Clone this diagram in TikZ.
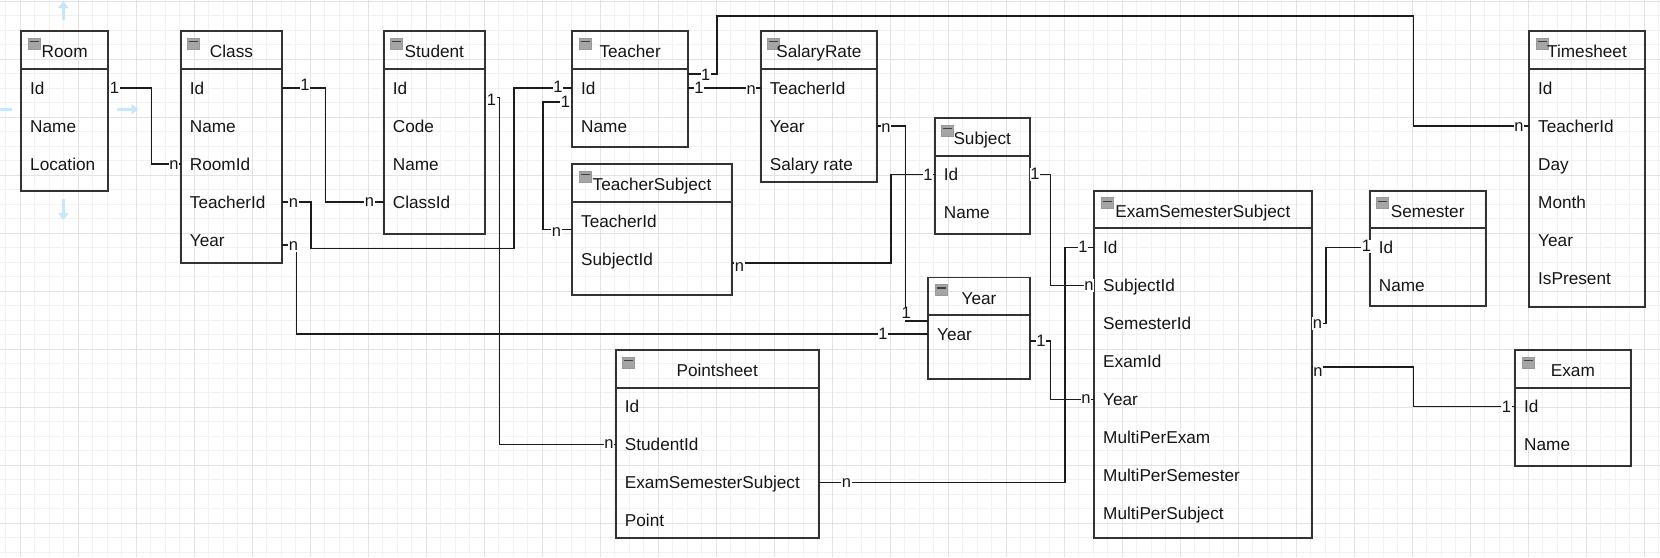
\documentclass[tikz,border=0pt]{standalone}
\usepackage{fontspec}
\setmainfont{Liberation Sans}
\usetikzlibrary{calc,arrows.meta}
\definecolor{boxc}{RGB}{51,51,51}
\definecolor{txt}{RGB}{22,22,22}
\definecolor{lnc}{RGB}{28,28,28}
\definecolor{hintc}{RGB}{202,229,248}
\definecolor{iconc}{RGB}{165,165,165}
\tikzset{
  ebox/.style={draw=boxc, line width=1.7pt, inner sep=0pt, outer sep=0pt},
  eline/.style={draw=boxc, line width=1.7pt},
  etitle/.style={anchor=base, inner sep=0pt, text=txt, font=\fontsize{17.2}{20}\selectfont},
  efield/.style={anchor=west, inner sep=0pt, text height=12.3pt, text depth=0pt, text=txt, font=\fontsize{17.2}{20}\selectfont},
  conn/.style={draw=lnc, line width=1.45pt},
  lab/.style={fill=white, inner sep=0.6pt, text height=11.8pt, text depth=0pt, text=txt, font=\fontsize{16.5}{18}\selectfont},
  gmin/.style={draw=black!5, line width=0.8pt},
  gmaj/.style={draw=black!11, line width=0.9pt},
  hint/.style={draw=hintc, line width=3.5pt, -{Triangle[width=10pt,length=7pt]}},
}
\newcommand\entity[8]{%
  \node[ebox, minimum width={#4-(#2)}, minimum height={#6-(#3)}] (#1) at ({(#2+#4)/2},{(#3+#6)/2}) {};
  \draw[eline] (#2,#5) -- (#4,#5);
  \fill[iconc] ({#2+7},{#3+7}) rectangle ({#2+19},{#3+18});
  \draw[black!40, line width=0.5pt] ({#2+7},{#3+7}) rectangle ({#2+19},{#3+18});
  \draw[black!75, line width=1.3pt] ({#2+8.5},{#3+10.5}) -- ({#2+17.5},{#3+10.5});
  \node[etitle] (#1-t) at ({(#2+#4)/2},{#3+26.5}) {#7};
  \foreach \f [count=\i from 0] in {#8} {\node[efield] (#1-\i) at ({#2+9},{#5+19+38*\i}) {\f};}
}
\begin{document}
\begin{tikzpicture}[x=1pt,y=-1pt]
\useasboundingbox (0,0) rectangle (1660,557);
\fill[white] (0,0) rectangle (1660,557);
% grid
\foreach \k in {0,...,114} {\draw[gmin] ({5.8+14.5*\k},0) -- ({5.8+14.5*\k},557);}
\foreach \k in {0,...,38} {\draw[gmin] (0,{1.3+14.5*\k}) -- (1660,{1.3+14.5*\k});}
\foreach \k in {0,...,28} {\draw[gmaj] ({20.3+58*\k},0) -- ({20.3+58*\k},557);}
\foreach \k in {0,...,9} {\draw[gmaj] (0,{1.3+58*\k}) -- (1660,{1.3+58*\k});}
% hover hints around Room
\draw[hint] (63.3,20) -- (63.3,1);
\draw[hint] (117,109.3) -- (138.5,109.3);
\draw[hint] (63.3,199) -- (63.3,220);
\draw[draw=hintc, line width=3.5pt] (0,109.3) -- (11.7,109.3);
% entities
\entity{room}{21}{31}{108.3}{69}{191}{Room}{Id,Name,Location}
\entity{class}{180.7}{31}{282.3}{69}{263}{Class}{Id,Name,RoomId,TeacherId,Year}
\entity{student}{383.7}{31}{485}{69}{233.7}{Student}{Id,Code,Name,ClassId}
\entity{teacher}{572}{31}{688.3}{69}{147}{Teacher}{Id,Name}
\entity{salary}{760.7}{31}{877}{69}{181.7}{SalaryRate}{TeacherId,Year,Salary rate}
\entity{tsub}{572}{164.3}{732}{202}{294.7}{TeacherSubject}{TeacherId,SubjectId}
\entity{subject}{934.7}{118}{1029.7}{155.7}{234}{Subject}{Id,Name}
\entity{year}{928}{277.5}{1030}{315}{379}{Year}{Year}
\entity{pointsheet}{615.7}{350}{818.7}{387.7}{538.3}{Pointsheet}{Id,StudentId,ExamSemesterSubject,Point}
\entity{ess}{1094}{190.7}{1311.7}{228.3}{538.3}{ExamSemesterSubject}{Id,SubjectId,SemesterId,ExamId,Year,MultiPerExam,MultiPerSemester,MultiPerSubject}
\entity{semester}{1369.7}{190.7}{1485.7}{228.3}{306}{Semester}{Id,Name}
\entity{timesheet}{1529}{31}{1645}{69}{306.7}{Timesheet}{Id,TeacherId,Day,Month,Year,IsPresent}
\entity{exam}{1515}{350}{1630.7}{387.7}{465.7}{Exam}{Id,Name}
% connectors
\draw[conn] (room.east |- room-0) -- (151.7,88) -- (151.7,164) -- (class.west |- class-2);
\draw[conn] (class.east |- class-0) -- (325.7,88) -- (325.7,202) -- (student.west |- student-3);
\draw[conn] (class.east |- class-3) -- (311,202) -- (311,248.3) -- (514,248.3) -- (514,88) -- (teacher.west |- teacher-0);
\draw[conn] ($(student.east |- student-0)+(0,9.3)$) -- (499.5,97.3) -- (499.5,444.7) -- (pointsheet.west |- pointsheet-1);
\draw[conn] ($(teacher.west |- teacher-0)+(0,14)$) -- (543,102) -- (543,229.7) -- ($(tsub.west |- tsub-0)+(0,8.7)$);
\draw[conn] (teacher.east |- teacher-0) -- (salary.west |- salary-0);
\draw[conn] ($(teacher.east |- teacher-0)+(0,-14)$) -- (717,74) -- (717,16) -- (1413.3,16) -- (1413.3,126) -- (timesheet.west |- timesheet-1);
\draw[conn] (salary.east |- salary-1) -- (905.3,126) -- (905.3,321) -- ($(year.west |- year-0)+(0,-13)$);
\draw[conn] ($(class.east |- class-4)+(0,5)$) -- (296.7,245) -- (296.7,334) -- (year.west |- year-0);
\draw[conn] ($(tsub.east |- tsub-1)+(0,4)$) -- (891,263) -- (891,174.7) -- (subject.west |- subject-0);
\draw[conn] (subject.east |- subject-0) -- (1050.7,174.7) -- (1050.7,285.3) -- (ess.west |- ess-1);
\draw[conn] (ess.west |- ess-0) -- (1065,247.3) -- (1065,482.7) -- (pointsheet.east |- pointsheet-2);
\draw[conn] ($(year.east |- year-0)+(0,7)$) -- (1050.7,341) -- (1050.7,399.3) -- (ess.west |- ess-4);
\draw[conn] (ess.east |- ess-2) -- (1326,323.3) -- (1326,247.3) -- (semester.west |- semester-0);
\draw[conn] ($(ess.east |- ess-3)+(0,5.7)$) -- (1413.3,367) -- (1413.3,406.7) -- (exam.west |- exam-0);
% multiplicity labels
\node[lab] (l1a) at (114.5,88) {1};
\node[lab] (l1b) at (174,163.5) {n};
\node[lab] (l2a) at (305,85) {1};
\node[lab] (l2b) at (369.5,201) {n};
\node[lab] (l3a) at (293.5,202) {n};
\node[lab] (l3b) at (558,87) {1};
\node[lab] (l4a) at (491.5,99.5) {1};
\node[lab] (l4b) at (609,443) {n};
\node[lab] (l5a) at (565.5,102) {1};
\node[lab] (l5b) at (556.5,231) {n};
\node[lab] (l6a) at (699,88) {1};
\node[lab] (l6b) at (751.3,88.5) {n};
\node[lab] (l7a) at (705.7,74.5) {1};
\node[lab] (l7b) at (1519,126) {n};
\node[lab] (l8a) at (886,126.5) {n};
\node[lab] (l8b) at (906.3,313) {1};
\node[lab] (l9a) at (293.5,245) {n};
\node[lab] (l9b) at (883,334) {1};
\node[lab] (l10a) at (739.5,266) {n};
\node[lab] (l10b) at (928,174.5) {1};
\node[lab] (l11a) at (1035,174) {1};
\node[lab] (l11b) at (1089,285) {n};
\node[lab] (l12a) at (1083,246.5) {1};
\node[lab] (l12b) at (846.5,482) {n};
\node[lab] (l13a) at (1041,341) {1};
\node[lab] (l13b) at (1086,398) {n};
\node[lab] (l14a) at (1317.5,323) {n};
\node[lab] (l14b) at (1366.5,246) {1};
\node[lab] (l15a) at (1318,371) {n};
\node[lab] (l15b) at (1506.5,406.7) {1};
\end{tikzpicture}
\end{document}
